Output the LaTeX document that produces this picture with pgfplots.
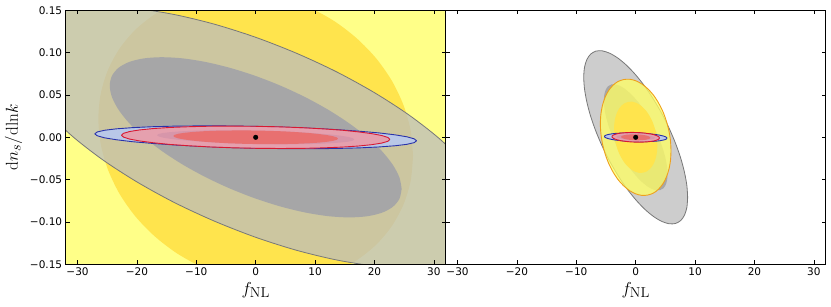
\documentclass[border=0pt]{standalone}
\usepackage[no-math]{fontspec}
\setmainfont{DejaVu Sans}
\usepackage{pgfplots}
\pgfplotsset{compat=1.18}

\definecolor{yelLight}{RGB}{255,255,136}
\definecolor{yelGold}{RGB}{255,228,77}
\definecolor{yelR}{RGB}{255,255,100}
\definecolor{orangeEdge}{RGB}{238,160,30}
\definecolor{grayFill}{RGB}{188,188,188}
\definecolor{grayDark}{RGB}{166,166,167}
\definecolor{grayEdge}{RGB}{120,120,120}
\definecolor{blueFill}{RGB}{185,200,232}
\definecolor{blueInner}{RGB}{115,150,210}
\definecolor{blueEdge}{RGB}{40,50,170}
\definecolor{redFill}{RGB}{240,150,160}
\definecolor{redInner}{RGB}{232,112,112}
\definecolor{redEdge}{RGB}{215,25,50}

\pgfplotsset{
  ellax/.style={
    scale only axis, width=380pt, height=254pt,
    xmin=-32, xmax=32, ymin=-0.15, ymax=0.15,
    axis on top, tick align=inside, major tick length=4pt,
    xtick={-30,-20,-10,0,10,20,30},
    xticklabels={−30,−20,−10,0,10,20,30},
    ytick={-0.15,-0.1,-0.05,0,0.05,0.1,0.15},
    ticklabel style={font=\fontsize{10.5}{12}\selectfont},
    axis line style={line width=0.8pt},
    tick style={black, line width=0.6pt},
    label style={font=\fontsize{19}{22}\selectfont},
    xlabel={$f_{\rm NL}$},
    xlabel style={at={(axis description cs:0.5,-0.101)}, anchor=center},
  },
  ell/.style={line join=round, mark=none},
}

\begin{document}
\begin{tikzpicture}
\useasboundingbox (-65.7pt,-41.7pt) rectangle (765.3pt,264.3pt);

% ---------------- left panel
\begin{axis}[ellax,
  yticklabels={−0.15,−0.10,−0.05,0.00,0.05,0.10,0.15},
  ylabel={$\mathrm{d}n_s/\mathrm{dln}k$},
  ylabel style={at={(axis description cs:-0.137,0.5)}, anchor=center},
]
% yellow, outer contour
\addplot[ell, draw=none, fill=yelLight] coordinates {
(43.2,-0.0359) (41.73,0.0375) (37.41,0.1084) (30.55,0.1719) (21.6,0.2237) (11.18,0.2602)
(0,0.279) (-11.18,0.2788) (-21.6,0.2596) (-30.55,0.2227) (-37.41,0.1706) (-41.73,0.1069)
(-43.2,0.0359) (-41.73,-0.0375) (-37.41,-0.1084) (-30.55,-0.1719) (-21.6,-0.2237) (-11.18,-0.2602)
(0,-0.279) (11.18,-0.2788) (21.6,-0.2596) (30.55,-0.2227) (37.41,-0.1706) (41.73,-0.1069) (43.2,-0.0359)
};
% yellow, inner contour
\addplot[ell, smooth, draw=none, fill=yelGold] coordinates {
(26.50,-0.0220) (26.10,0.0080) (24.90,0.0378) (22.95,0.0665) (20.30,0.0931) (17.03,0.1168)
(13.25,0.1371) (9.06,0.1532) (4.60,0.1646) (0,0.1710) (-4.60,0.1722) (-9.06,0.1682)
(-13.25,0.1591) (-17.03,0.1451) (-20.30,0.1268) (-22.95,0.1046) (-24.90,0.0792) (-26.10,0.0514)
(-26.50,0.0220) (-26.10,-0.0080) (-24.90,-0.0378) (-22.95,-0.0665) (-20.30,-0.0931) (-17.03,-0.1168)
(-13.25,-0.1371) (-9.06,-0.1532) (-4.60,-0.1646) (0,-0.1710) (4.60,-0.1722) (9.06,-0.1682)
(13.25,-0.1591) (17.03,-0.1451) (20.30,-0.1268) (22.95,-0.1046) (24.90,-0.0792) (26.10,-0.0514) (26.50,-0.0220)
};
% grey, outer contour
\addplot[ell, smooth, draw=grayEdge, line width=0.8pt, fill=grayFill, fill opacity=0.75] coordinates {
(40.10,-0.0995) (39.49,-0.0775) (37.68,-0.0531) (34.73,-0.0271) (30.72,-0.0003) (25.78,0.0265)
(20.05,0.0525) (13.71,0.0770) (6.96,0.0990) (0,0.1181) (-6.96,0.1336) (-13.71,0.1450)
(-20.05,0.1520) (-25.78,0.1544) (-30.72,0.1521) (-34.73,0.1452) (-37.68,0.1339) (-39.49,0.1185)
(-40.10,0.0995) (-39.49,0.0775) (-37.68,0.0531) (-34.73,0.0271) (-30.72,0.0003) (-25.78,-0.0265)
(-20.05,-0.0525) (-13.71,-0.0770) (-6.96,-0.0990) (0,-0.1181) (6.96,-0.1336) (13.71,-0.1450)
(20.05,-0.1520) (25.78,-0.1544) (30.72,-0.1521) (34.73,-0.1452) (37.68,-0.1339) (39.49,-0.1185) (40.10,-0.0995)
};
% grey, inner contour
\addplot[ell, smooth, draw=none, fill=grayDark] coordinates {
(24.58,-0.0610) (24.21,-0.0475) (23.10,-0.0326) (21.29,-0.0166) (18.83,-0.0002) (15.80,0.0162)
(12.29,0.0322) (8.40,0.0472) (4.27,0.0607) (0,0.0724) (-4.27,0.0819) (-8.40,0.0889)
(-12.29,0.0932) (-15.80,0.0946) (-18.83,0.0932) (-21.29,0.0890) (-23.10,0.0821) (-24.21,0.0726)
(-24.58,0.0610) (-24.21,0.0475) (-23.10,0.0326) (-21.29,0.0166) (-18.83,0.0002) (-15.80,-0.0162)
(-12.29,-0.0322) (-8.40,-0.0472) (-4.27,-0.0607) (0,-0.0724) (4.27,-0.0819) (8.40,-0.0889)
(12.29,-0.0932) (15.80,-0.0946) (18.83,-0.0932) (21.29,-0.0890) (23.10,-0.0821) (24.21,-0.0726) (24.58,-0.0610)
};
% blue, outer contour
\addplot[ell, draw=blueEdge, line width=0.9pt, fill=blueFill] coordinates {
(27.10,-0.0041) (26.69,-0.0018) (25.47,0.0006) (23.47,0.0029) (20.76,0.0052) (17.42,0.0072)
(13.55,0.0091) (9.27,0.0107) (4.70,0.0120) (0,0.0129) (-4.70,0.0134) (-9.27,0.0135)
(-13.55,0.0132) (-17.42,0.0125) (-20.76,0.0114) (-23.47,0.0100) (-25.47,0.0083) (-26.69,0.0063)
(-27.10,0.0041) (-26.69,0.0018) (-25.47,-0.0006) (-23.47,-0.0029) (-20.76,-0.0052) (-17.42,-0.0072)
(-13.55,-0.0091) (-9.27,-0.0107) (-4.70,-0.0120) (0,-0.0129) (4.70,-0.0134) (9.27,-0.0135)
(13.55,-0.0132) (17.42,-0.0125) (20.76,-0.0114) (23.47,-0.0100) (25.47,-0.0083) (26.69,-0.0063) (27.10,-0.0041)
};
% blue, inner contour
\addplot[ell, draw=none, fill=blueInner] coordinates {
(16.61,-0.0025) (16.36,-0.0011) (15.61,0.0004) (14.39,0.0018) (12.73,0.0032) (10.68,0.0044)
(8.31,0.0056) (5.68,0.0066) (2.88,0.0074) (0,0.0079) (-2.88,0.0082) (-5.68,0.0083)
(-8.31,0.0081) (-10.68,0.0077) (-12.73,0.0070) (-14.39,0.0061) (-15.61,0.0051) (-16.36,0.0039)
(-16.61,0.0025) (-16.36,0.0011) (-15.61,-0.0004) (-14.39,-0.0018) (-12.73,-0.0032) (-10.68,-0.0044)
(-8.31,-0.0056) (-5.68,-0.0066) (-2.88,-0.0074) (0,-0.0079) (2.88,-0.0082) (5.68,-0.0083)
(8.31,-0.0081) (10.68,-0.0077) (12.73,-0.0070) (14.39,-0.0061) (15.61,-0.0051) (16.36,-0.0039) (16.61,-0.0025)
};
% red, outer contour
\addplot[ell, draw=redEdge, line width=0.9pt, fill=redFill, fill opacity=0.8] coordinates {
(22.60,-0.0025) (22.26,-0.0002) (21.24,0.0021) (19.57,0.0043) (17.31,0.0064) (14.53,0.0084)
(11.30,0.0100) (7.73,0.0114) (3.92,0.0124) (0,0.0130) (-3.92,0.0132) (-7.73,0.0131)
(-11.30,0.0125) (-14.53,0.0116) (-17.31,0.0103) (-19.57,0.0087) (-21.24,0.0068) (-22.26,0.0047)
(-22.60,0.0025) (-22.26,0.0002) (-21.24,-0.0021) (-19.57,-0.0043) (-17.31,-0.0064) (-14.53,-0.0084)
(-11.30,-0.0100) (-7.73,-0.0114) (-3.92,-0.0124) (0,-0.0130) (3.92,-0.0132) (7.73,-0.0131)
(11.30,-0.0125) (14.53,-0.0116) (17.31,-0.0103) (19.57,-0.0087) (21.24,-0.0068) (22.26,-0.0047) (22.60,-0.0025)
};
% red, inner contour
\addplot[ell, draw=none, fill=redInner] coordinates {
(13.85,-0.0015) (13.65,-0.0001) (13.02,0.0013) (12.00,0.0026) (10.61,0.0039) (8.91,0.0051)
(6.93,0.0061) (4.74,0.0070) (2.40,0.0076) (0,0.0080) (-2.40,0.0081) (-4.74,0.0080)
(-6.93,0.0077) (-8.91,0.0071) (-10.61,0.0063) (-12.00,0.0053) (-13.02,0.0042) (-13.65,0.0029)
(-13.85,0.0015) (-13.65,0.0001) (-13.02,-0.0013) (-12.00,-0.0026) (-10.61,-0.0039) (-8.91,-0.0051)
(-6.93,-0.0061) (-4.74,-0.0070) (-2.40,-0.0076) (0,-0.0080) (2.40,-0.0081) (4.74,-0.0080)
(6.93,-0.0077) (8.91,-0.0071) (10.61,-0.0063) (12.00,-0.0053) (13.02,-0.0042) (13.65,-0.0029) (13.85,-0.0015)
};
% fiducial
\addplot[only marks, mark=*, mark size=2.3pt, black] coordinates {(0,0)};
\end{axis}

% ---------------- right panel
\begin{axis}[ellax, at={(380pt,0pt)}, anchor=south west, yticklabels={}]
% grey, outer contour
\addplot[ell, smooth, draw=grayEdge, line width=0.8pt, fill=grayFill, fill opacity=0.75] coordinates {
(8.75,-0.0710) (8.62,-0.0571) (8.22,-0.0415) (7.58,-0.0246) (6.70,-0.0070) (5.62,0.0108)
(4.38,0.0283) (2.99,0.0450) (1.52,0.0603) (0,0.0737) (-1.52,0.0849) (-2.99,0.0935)
(-4.38,0.0993) (-5.62,0.1021) (-6.70,0.1018) (-7.58,0.0983) (-8.22,0.0919) (-8.62,0.0827)
(-8.75,0.0710) (-8.62,0.0571) (-8.22,0.0415) (-7.58,0.0246) (-6.70,0.0070) (-5.62,-0.0108)
(-4.38,-0.0283) (-2.99,-0.0450) (-1.52,-0.0603) (0,-0.0737) (1.52,-0.0849) (2.99,-0.0935)
(4.38,-0.0993) (5.62,-0.1021) (6.70,-0.1018) (7.58,-0.0983) (8.22,-0.0919) (8.62,-0.0827) (8.75,-0.0710)
};
% grey, inner contour
\addplot[ell, smooth, draw=none, fill=grayDark] coordinates {
(5.36,-0.0435) (5.28,-0.0350) (5.04,-0.0254) (4.65,-0.0151) (4.11,-0.0043) (3.45,0.0066)
(2.68,0.0173) (1.83,0.0276) (0.93,0.0370) (0,0.0452) (-0.93,0.0520) (-1.83,0.0573)
(-2.68,0.0609) (-3.45,0.0626) (-4.11,0.0624) (-4.65,0.0603) (-5.04,0.0563) (-5.28,0.0507)
(-5.36,0.0435) (-5.28,0.0350) (-5.04,0.0254) (-4.65,0.0151) (-4.11,0.0043) (-3.45,-0.0066)
(-2.68,-0.0173) (-1.83,-0.0276) (-0.93,-0.0370) (0,-0.0452) (0.93,-0.0520) (1.83,-0.0573)
(2.68,-0.0609) (3.45,-0.0626) (4.11,-0.0624) (4.65,-0.0603) (5.04,-0.0563) (5.28,-0.0507) (5.36,-0.0435)
};
% yellow, outer contour
\addplot[ell, smooth, draw=orangeEdge, line width=0.9pt, fill=yelR, fill opacity=0.76] coordinates {
(5.95,-0.0160) (5.86,-0.0042) (5.59,0.0078) (5.15,0.0195) (4.56,0.0307) (3.82,0.0409)
(2.98,0.0499) (2.03,0.0573) (1.03,0.0630) (0,0.0668) (-1.03,0.0686) (-2.03,0.0682)
(-2.98,0.0659) (-3.82,0.0615) (-4.56,0.0552) (-5.15,0.0473) (-5.59,0.0379) (-5.86,0.0274)
(-5.95,0.0160) (-5.86,0.0042) (-5.59,-0.0078) (-5.15,-0.0195) (-4.56,-0.0307) (-3.82,-0.0409)
(-2.98,-0.0499) (-2.03,-0.0573) (-1.03,-0.0630) (0,-0.0668) (1.03,-0.0686) (2.03,-0.0682)
(2.98,-0.0659) (3.82,-0.0615) (4.56,-0.0552) (5.15,-0.0473) (5.59,-0.0379) (5.86,-0.0274) (5.95,-0.0160)
};
% yellow, inner contour
\addplot[ell, smooth, draw=none, fill=yelGold] coordinates {
(3.65,-0.0098) (3.59,-0.0026) (3.43,0.0048) (3.16,0.0120) (2.80,0.0188) (2.34,0.0251)
(1.83,0.0306) (1.24,0.0351) (0.63,0.0386) (0,0.0409) (-0.63,0.0421) (-1.24,0.0418)
(-1.83,0.0404) (-2.34,0.0377) (-2.80,0.0338) (-3.16,0.0290) (-3.43,0.0232) (-3.59,0.0168)
(-3.65,0.0098) (-3.59,0.0026) (-3.43,-0.0048) (-3.16,-0.0120) (-2.80,-0.0188) (-2.34,-0.0251)
(-1.83,-0.0306) (-1.24,-0.0351) (-0.63,-0.0386) (0,-0.0409) (0.63,-0.0421) (1.24,-0.0418)
(1.83,-0.0404) (2.34,-0.0377) (2.80,-0.0338) (3.16,-0.0290) (3.43,-0.0232) (3.59,-0.0168) (3.65,-0.0098)
};
% blue, outer contour
\addplot[ell, draw=blueEdge, line width=0.9pt, fill=blueFill] coordinates {
(5.27,-0.0010) (5.19,-0.0001) (4.95,0.0008) (4.56,0.0017) (4.04,0.0025) (3.39,0.0033)
(2.64,0.0039) (1.80,0.0045) (0.91,0.0049) (0,0.0051) (-0.91,0.0052) (-1.80,0.0051)
(-2.64,0.0049) (-3.39,0.0046) (-4.04,0.0041) (-4.56,0.0034) (-4.95,0.0027) (-5.19,0.0019)
(-5.27,0.0010) (-5.19,0.0001) (-4.95,-0.0008) (-4.56,-0.0017) (-4.04,-0.0025) (-3.39,-0.0033)
(-2.64,-0.0039) (-1.80,-0.0045) (-0.91,-0.0049) (0,-0.0051) (0.91,-0.0052) (1.80,-0.0051)
(2.64,-0.0049) (3.39,-0.0046) (4.04,-0.0041) (4.56,-0.0034) (4.95,-0.0027) (5.19,-0.0019) (5.27,-0.0010)
};
% blue, inner contour
\addplot[ell, draw=none, fill=blueInner] coordinates {
(3.23,-0.0006) (3.18,-0.0001) (3.03,0.0005) (2.80,0.0010) (2.48,0.0015) (2.08,0.0020)
(1.62,0.0024) (1.10,0.0028) (0.56,0.0030) (0,0.0031) (-0.56,0.0032) (-1.10,0.0031)
(-1.62,0.0030) (-2.08,0.0028) (-2.48,0.0025) (-2.80,0.0021) (-3.03,0.0017) (-3.18,0.0012)
(-3.23,0.0006) (-3.18,0.0001) (-3.03,-0.0005) (-2.80,-0.0010) (-2.48,-0.0015) (-2.08,-0.0020)
(-1.62,-0.0024) (-1.10,-0.0028) (-0.56,-0.0030) (0,-0.0031) (0.56,-0.0032) (1.10,-0.0031)
(1.62,-0.0030) (2.08,-0.0028) (2.48,-0.0025) (2.80,-0.0021) (3.03,-0.0017) (3.18,-0.0012) (3.23,-0.0006)
};
% red, outer contour
\addplot[ell, draw=redEdge, line width=0.9pt, fill=redFill, fill opacity=0.8] coordinates {
(4.00,-0.0008) (3.94,0.0002) (3.76,0.0012) (3.46,0.0022) (3.06,0.0031) (2.57,0.0039)
(2.00,0.0045) (1.37,0.0051) (0.69,0.0055) (0,0.0057) (-0.69,0.0058) (-1.37,0.0056)
(-2.00,0.0053) (-2.57,0.0049) (-3.06,0.0043) (-3.46,0.0035) (-3.76,0.0027) (-3.94,0.0018)
(-4.00,0.0008) (-3.94,-0.0002) (-3.76,-0.0012) (-3.46,-0.0022) (-3.06,-0.0031) (-2.57,-0.0039)
(-2.00,-0.0045) (-1.37,-0.0051) (-0.69,-0.0055) (0,-0.0057) (0.69,-0.0058) (1.37,-0.0056)
(2.00,-0.0053) (2.57,-0.0049) (3.06,-0.0043) (3.46,-0.0035) (3.76,-0.0027) (3.94,-0.0018) (4.00,-0.0008)
};
% red, inner contour
\addplot[ell, draw=none, fill=redInner] coordinates {
(2.45,-0.0005) (2.42,0.0001) (2.30,0.0007) (2.12,0.0013) (1.88,0.0019) (1.58,0.0024)
(1.23,0.0028) (0.84,0.0031) (0.42,0.0034) (0,0.0035) (-0.42,0.0036) (-0.84,0.0034)
(-1.23,0.0032) (-1.58,0.0030) (-1.88,0.0026) (-2.12,0.0021) (-2.30,0.0017) (-2.42,0.0011)
(-2.45,0.0005) (-2.42,-0.0001) (-2.30,-0.0007) (-2.12,-0.0013) (-1.88,-0.0019) (-1.58,-0.0024)
(-1.23,-0.0028) (-0.84,-0.0031) (-0.42,-0.0034) (0,-0.0035) (0.42,-0.0036) (0.84,-0.0034)
(1.23,-0.0032) (1.58,-0.0030) (1.88,-0.0026) (2.12,-0.0021) (2.30,-0.0017) (2.42,-0.0011) (2.45,-0.0005)
};
% fiducial
\addplot[only marks, mark=*, mark size=2.3pt, black] coordinates {(0,0)};
\end{axis}
\end{tikzpicture}
\end{document}
